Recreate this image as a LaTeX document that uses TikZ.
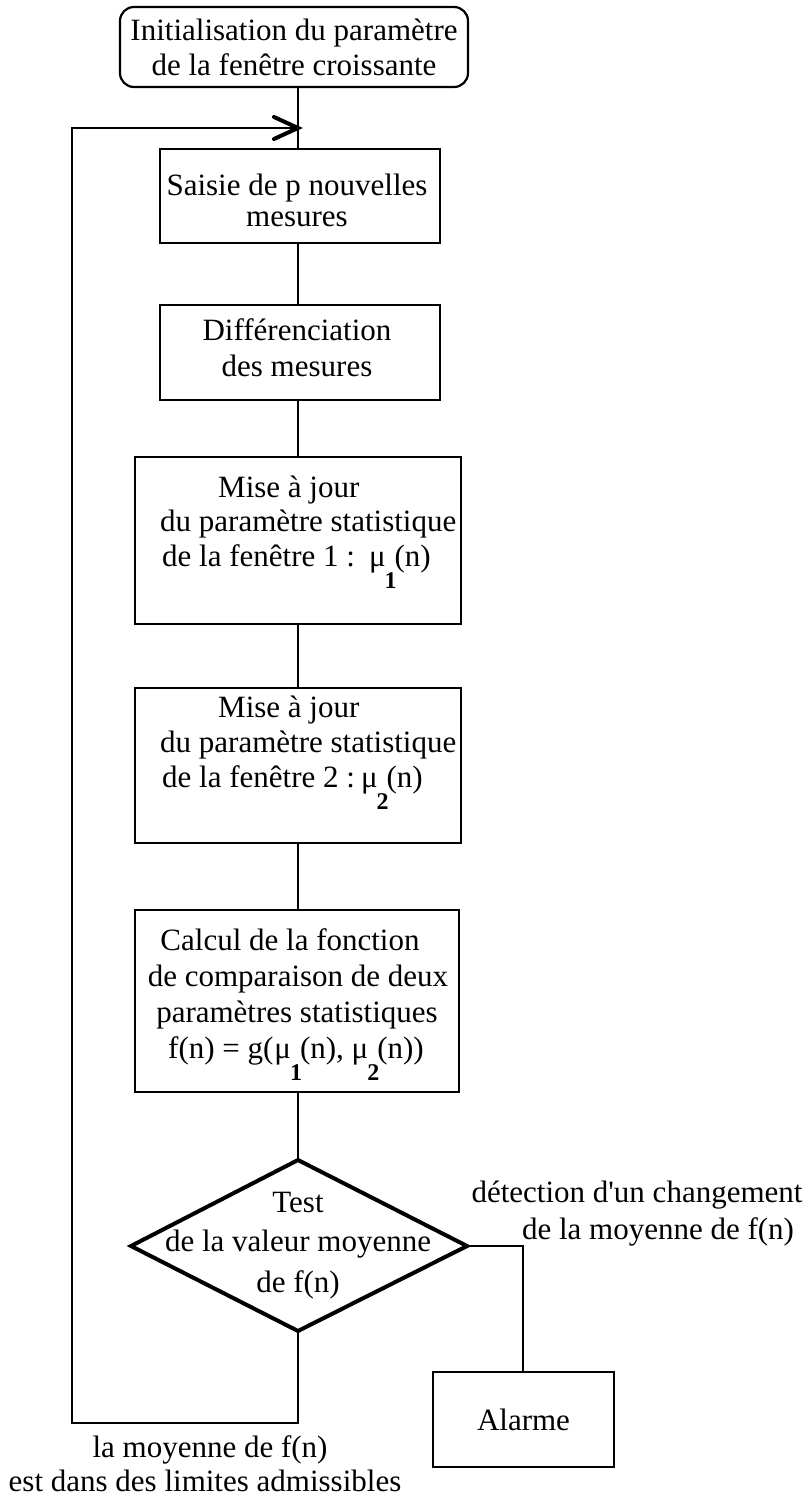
\documentclass[tikz,border=0pt]{standalone}
\usepackage{fontspec}
\setmainfont{Liberation Serif}
\newfontfamily\rawserif{Liberation Serif}
\usetikzlibrary{arrows.meta,shapes.geometric}
\newcommand{\subidx}[1]{\raisebox{-22pt}{\fontsize{24}{24}\selectfont\bfseries #1}}
\newcommand{\apos}{{\rawserif '}}
\begin{document}
\begin{tikzpicture}[x=1pt,y=-1pt,
  box/.style={draw, line width=2.2pt, inner sep=0pt, rectangle},
  txt/.style={inner sep=0pt, font=\fontsize{31}{36}\selectfont},
  conn/.style={line width=2pt},
]
\useasboundingbox (0,0) rectangle (809,1499);
\fill[white] (0,0) rectangle (809,1499);

% boxes
\node[box, rounded corners=14pt, minimum width=348pt, minimum height=80pt] (b1) at (294,47) {};
\node[box, minimum width=280pt, minimum height=94pt] (b2) at (300,196) {};
\node[box, minimum width=280pt, minimum height=95pt] (b3) at (300,352.5) {};
\node[box, minimum width=326pt, minimum height=167pt] (b4) at (298,540.5) {};
\node[box, minimum width=326pt, minimum height=155pt] (b5) at (298,765.5) {};
\node[box, minimum width=324pt, minimum height=182pt] (b6) at (297,1001) {};
\node[box, minimum width=181pt, minimum height=95pt] (al) at (523.5,1419.5) {};
\draw[line width=4pt, line join=miter] (131,1246) coordinate (dW) -- (298,1160) coordinate (dN) -- (467,1246) coordinate (dE) -- (298,1331) coordinate (dS) -- cycle;

% texts
\node[txt, anchor=base] (t1a) at (294,40) {Initialisation du paramètre};
\node[txt, anchor=base] (t1b) at (294,75) {de la fenêtre croissante};
\node[txt, anchor=base] (t2a) at (297,195) {Saisie de p nouvelles};
\node[txt, anchor=base] (t2b) at (297,226) {mesures};
\node[txt, anchor=base] (t3a) at (297,340) {Différenciation};
\node[txt, anchor=base] (t3b) at (297,376) {des mesures};
\node[txt, anchor=base west] (t4a) at (218,497) {Mise à jour};
\node[txt, anchor=base west] (t4b) at (160,531) {du paramètre statistique};
\node[txt, anchor=base west] (t4c) at (162,566) {de la fenêtre 1 :\hspace{14pt}μ\kern-1pt\subidx{1}\kern-2pt(n)};
\node[txt, anchor=base west] (t5a) at (218,717) {Mise à jour};
\node[txt, anchor=base west] (t5b) at (160,752) {du paramètre statistique};
\node[txt, anchor=base west] (t5c) at (162,787) {de la fenêtre 2 :\hspace{6pt}μ\kern-1pt\subidx{2}\kern-2pt(n)};
\node[txt, anchor=base] (t6a) at (290,950) {Calcul de la fonction};
\node[txt, anchor=base] (t6b) at (298,986) {de comparaison de deux};
\node[txt, anchor=base] (t6c) at (297,1022) {paramètres statistiques};
\node[txt, anchor=base] (t6d) at (296,1058) {f(n) = g(\kern1ptμ\kern-1pt\subidx{1}\kern-2pt(n), μ\kern-1pt\subidx{2}\kern-2pt(n))};
\node[txt, anchor=base] (td1) at (298,1212) {Test};
\node[txt, anchor=base] (td2) at (298,1251) {de la valeur moyenne};
\node[txt, anchor=base] (td3) at (298,1292) {de f(n)};
\node[txt, anchor=base] (tal) at (523.5,1430) {Alarme};
\node[txt, anchor=base] (lr1) at (637,1202) {détection d\apos un changement};
\node[txt, anchor=base] (lr2) at (658,1239) {de la moyenne de f(n)};
\node[txt, anchor=base] (lb1) at (210,1457) {la moyenne de f(n)};
\node[txt, anchor=base] (lb2) at (205,1491) {est dans des limites admissibles};

% connectors
\coordinate (cx) at (298,0);
\coordinate (lt) at (72,128);
\coordinate (lb) at (72,1423);
\coordinate (rc) at (523,1246);
\coordinate (tip) at (298,128);
\draw[conn] (b1.south -| cx) -- (b2.north -| cx);
\draw[conn] (b2.south -| cx) -- (b3.north -| cx);
\draw[conn] (b3.south -| cx) -- (b4.north -| cx);
\draw[conn] (b4.south -| cx) -- (b5.north -| cx);
\draw[conn] (b5.south -| cx) -- (b6.north -| cx);
\draw[conn] (b6.south -| cx) -- (dN);
\draw[conn] (dE) -- (rc) -- (al.north -| rc);
\draw[conn] (dS) -- (dS |- lb) -- (lb) -- (lt) -- (tip);
\draw[line width=4pt, line cap=round, line join=miter] ([xshift=-24pt,yshift=-11pt]tip) -- (tip) -- ([xshift=-24pt,yshift=11pt]tip);
\end{tikzpicture}
\end{document}
